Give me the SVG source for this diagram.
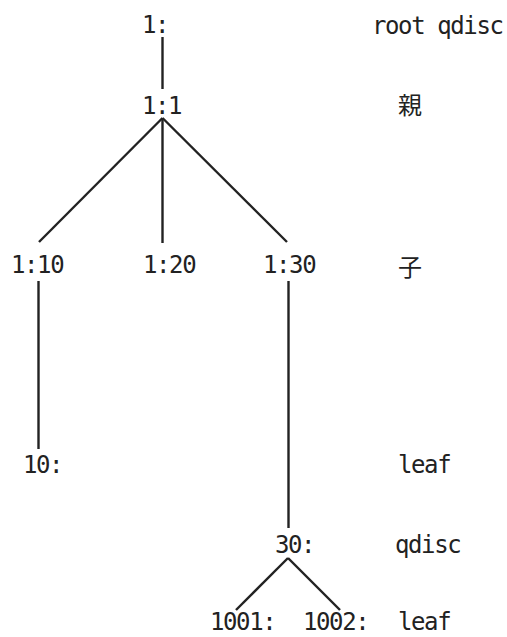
<svg xmlns="http://www.w3.org/2000/svg" width="507" height="637" viewBox="0 0 507 637">
<style>
text{font-family:"DejaVu Sans Mono","Liberation Mono","Noto Sans CJK JP",monospace;font-size:24px;letter-spacing:-1.4px;fill:#222}
.cjk{font-family:"Noto Sans CJK JP",sans-serif;font-size:24px;letter-spacing:0}
#connectors line{stroke:#222;stroke-width:2.4;stroke-linecap:butt}
</style>
<rect width="507" height="637" fill="#fff"/>
<g id="connectors">
<line x1="162.5" y1="37" x2="162.5" y2="89"/>
<line x1="162.5" y1="118" x2="39" y2="242"/>
<line x1="162.5" y1="118" x2="162.5" y2="243"/>
<line x1="162.5" y1="118" x2="287" y2="242"/>
<line x1="38.5" y1="281" x2="38.5" y2="449"/>
<line x1="288.5" y1="281" x2="288.5" y2="528"/>
<line x1="288" y1="558" x2="236" y2="610"/>
<line x1="288" y1="558" x2="340" y2="610"/>
</g>
<g id="n-root"><text x="142" y="33">1:</text></g>
<g id="n-1-1"><text x="142" y="114">1:1</text></g>
<g id="n-1-10"><text x="11" y="273">1:10</text></g>
<g id="n-1-20"><text x="143" y="273">1:20</text></g>
<g id="n-1-30"><text x="263" y="273">1:30</text></g>
<g id="n-10"><text x="23" y="473">10:</text></g>
<g id="n-30"><text x="275" y="553">30:</text></g>
<g id="n-1001"><text x="210" y="630">1001:</text></g>
<g id="n-1002"><text x="303" y="630">1002:</text></g>
<g id="labels">
<text x="372" y="34">root qdisc</text>
<text class="cjk" x="398" y="114">親</text>
<text class="cjk" x="398" y="276">子</text>
<text x="398" y="473">leaf</text>
<text x="395" y="553">qdisc</text>
<text x="398" y="630">leaf</text>
</g>
</svg>
